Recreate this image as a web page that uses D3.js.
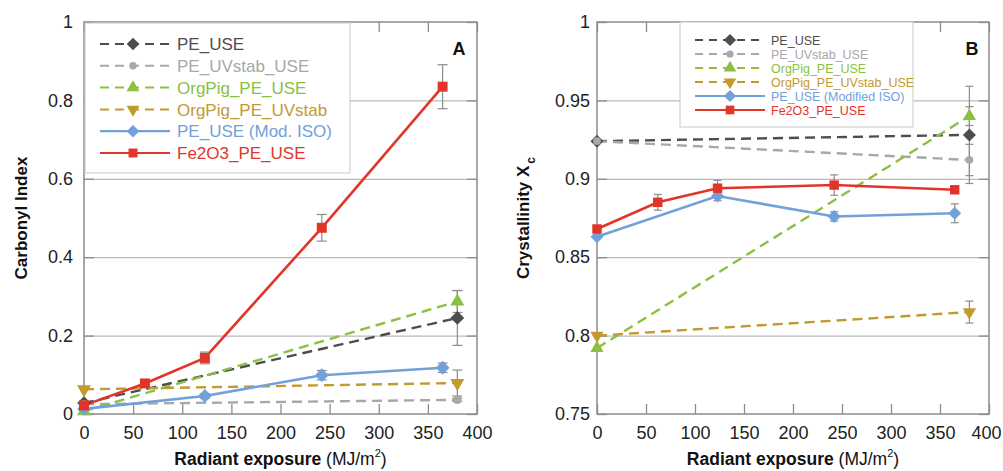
<!DOCTYPE html>
<html>
<head>
<meta charset="utf-8">
<script src="https://cdn.jsdelivr.net/npm/d3@7"></script>
<style>
  body { margin: 0; background: #fff; }
  svg { display: block; font-family: "Liberation Sans", Arial, sans-serif; }
</style>
</head>
<body>
<svg id="chart" width="1003" height="471"></svg>
<script>
// x axis (radiant exposure, MJ/m2)
const xTicks = [0, 50, 100, 150, 200, 250, 300, 350, 400];
const xTickLabels = ['0', '50', '100', '150', '200', '250', '300', '350', '400'];
const xEnds = [0, 380];
const xFe = [0, 62, 123, 242, 365];
const xIso = [0, 123, 242, 365];

// panel A - carbonyl index
const ciTicks = [0, 0.2, 0.4, 0.6, 0.8, 1];
const ciTickLabels = ['0', '0.2', '0.4', '0.6', '0.8', '1'];
const ciPE = [0.028, 0.245];
const ciPEErr = [0, 0.07];
const ciUVstab = [0.025, 0.036];
const ciUVstabErr = [0, 0.004];
const ciOrgPig = [0.007, 0.287];
const ciOrgPigErr = [0, 0.028];
const ciOrgPigUV = [0.063, 0.079];
const ciOrgPigUVErr = [0, 0.033];
const ciIso = [0.013, 0.046, 0.099, 0.118];
const ciIsoErr = [0, 0.006, 0.012, 0.012];
const ciFe = [0.022, 0.078, 0.143, 0.475, 0.835];
const ciFeErr = [0.005, 0, 0.015, 0.034, 0.056];

// panel B - crystallinity
const xcTicks = [0.75, 0.8, 0.85, 0.9, 0.95, 1];
const xcTickLabels = ['0.75', '0.8', '0.85', '0.9', '0.95', '1'];
const xcPE = [0.924, 0.928];
const xcPEErr = [0, 0.031];
const xcUVstab = [0.924, 0.912];
const xcUVstabErr = [0, 0.01];
const xcOrgPig = [0.792, 0.940];
const xcOrgPigErr = [0, 0.006];
const xcOrgPigUV = [0.800, 0.815];
const xcOrgPigUVErr = [0, 0.007];
const xcIso = [0.863, 0.889, 0.876, 0.878];
const xcIsoErr = [0, 0.003, 0.003, 0.006];
const xcFe = [0.868, 0.885, 0.894, 0.896, 0.893];
const xcFeErr = [0, 0.005, 0.005, 0.0065, 0];

const namesA = ['PE_USE', 'PE_UVstab_USE', 'OrgPig_PE_USE', 'OrgPig_PE_UVstab', 'PE_USE (Mod. ISO)', 'Fe2O3_PE_USE'];
const namesB = ['PE_USE', 'PE_UVstab_USE', 'OrgPig_PE_USE', 'OrgPig_PE_UVstab_USE', 'PE_USE (Modified ISO)', 'Fe2O3_PE_USE'];

const styles = [
  { color: '#4d4d4d', dash: true, shape: 'diamond' },
  { color: '#a8a8a8', dash: true, shape: 'circle' },
  { color: '#8cc043', dash: true, shape: 'up' },
  { color: '#c39a2f', dash: true, shape: 'down' },
  { color: '#72a1d9', dash: false, shape: 'diamond' },
  { color: '#e2352a', dash: false, shape: 'square' }
];

const svg = d3.select('#chart');

function symbolPath(shape, size) {
  if (shape === 'diamond' || shape === 'square') return d3.symbol().type(d3.symbolSquare).size(size)();
  if (shape === 'circle') return d3.symbol().type(d3.symbolCircle).size(size * 0.55)();
  return d3.symbol().type(d3.symbolTriangle).size(size * 0.9)();
}

function placeMarker(g, shape, size, color, cx, cy) {
  let rot = 0;
  if (shape === 'diamond') rot = 45;
  if (shape === 'down') rot = 180;
  g.append('path')
    .attr('d', symbolPath(shape, size))
    .attr('fill', color)
    .attr('transform', `translate(${cx},${cy}) rotate(${rot})`);
}

function drawPanel(p) {
  const x = d3.scaleLinear().domain([0, 400]).range([p.left, p.right]);
  const y = d3.scaleLinear().domain([p.yTicks[0], p.yTicks[p.yTicks.length - 1]]).range([p.bottom, p.top]);
  const w = p.right - p.left;
  const h = p.bottom - p.top;
  const g = svg.append('g');

  // horizontal grid
  g.append('g')
    .attr('transform', `translate(${p.left},0)`)
    .call(d3.axisLeft(y).tickValues(p.yTicks.slice(1, -1)).tickSize(-w).tickFormat(''))
    .call(s => s.select('.domain').remove())
    .selectAll('line').attr('stroke', '#a9a9a9').attr('stroke-width', 1);

  const styleAxis = s => {
    s.select('.domain').remove();
    s.selectAll('line').attr('stroke', '#8c8c8c').attr('stroke-width', 1.3);
    s.selectAll('text').attr('fill', '#222').attr('font-size', 18)
      .attr('font-family', '"Liberation Sans", Arial, sans-serif');
  };

  const bottomAxis = g.append('g').attr('transform', `translate(0,${p.bottom})`)
    .call(d3.axisBottom(x).tickValues(xTicks).tickFormat((d, i) => xTickLabels[i]).tickSize(-10).tickPadding(12))
    .call(styleAxis);
  if (p.lastTickEnd) {
    // keep the last label inside the page
    bottomAxis.selectAll('.tick:last-of-type text').attr('text-anchor', 'end').attr('x', p.lastTickEnd);
  }
  g.append('g').attr('transform', `translate(0,${p.top})`)
    .call(d3.axisTop(x).tickValues(xTicks).tickFormat('').tickSize(-10))
    .call(styleAxis);
  g.append('g').attr('transform', `translate(${p.left},0)`)
    .call(d3.axisLeft(y).tickValues(p.yTicks).tickFormat((d, i) => p.yTickLabels[i]).tickSize(-10).tickPadding(p.yPad))
    .call(styleAxis);
  g.append('g').attr('transform', `translate(${p.right},0)`)
    .call(d3.axisRight(y).tickValues(p.yTicks).tickFormat('').tickSize(-10))
    .call(styleAxis);

  g.append('rect')
    .attr('x', p.left).attr('y', p.top).attr('width', w).attr('height', h)
    .attr('fill', 'none').attr('stroke', '#8c8c8c').attr('stroke-width', 1.5);

  // legend (drawn before the data so the lines sit on top)
  const lg = g.append('g');
  lg.append('rect')
    .attr('x', p.legend.x).attr('y', p.legend.y)
    .attr('width', p.legend.w).attr('height', p.legend.h)
    .attr('fill', '#fff').attr('stroke', '#c8c8c8').attr('stroke-width', 1);
  p.series.forEach((s, i) => {
    const ly = p.legend.first + i * p.legend.step;
    lg.append('line')
      .attr('x1', p.legend.lx1).attr('x2', p.legend.lx2).attr('y1', ly).attr('y2', ly)
      .attr('stroke', s.color).attr('stroke-width', s.dash ? 2 : 2.2)
      .attr('stroke-dasharray', s.dash ? p.legend.dash : null);
    placeMarker(lg, s.shape, p.legend.msize, s.color, p.legend.mx, ly);
    lg.append('text')
      .attr('x', p.legend.tx).attr('y', ly).attr('dy', '0.36em')
      .attr('font-size', p.legend.font).attr('fill', s.color)
      .text(s.name);
  });

  const line = d3.line().x(d => x(d[0])).y(d => y(d[1]));

  p.series.forEach(s => {
    const pts = s.x.map((v, i) => [v, s.y[i]]);
    g.append('path')
      .attr('d', line(pts))
      .attr('fill', 'none')
      .attr('stroke', s.color)
      .attr('stroke-width', s.dash ? 2.4 : 2.6)
      .attr('stroke-dasharray', s.dash ? p.dash : null);
  });

  p.series.forEach(s => {
    s.x.forEach((v, i) => {
      const e = s.err[i];
      if (!e) return;
      const cx = x(v);
      g.append('line')
        .attr('x1', cx).attr('x2', cx).attr('y1', y(s.y[i] - e)).attr('y2', y(s.y[i] + e))
        .attr('stroke', '#8c8c8c').attr('stroke-width', 1.2);
      [s.y[i] - e, s.y[i] + e].forEach(yy => {
        g.append('line')
          .attr('x1', cx - p.cap).attr('x2', cx + p.cap).attr('y1', y(yy)).attr('y2', y(yy))
          .attr('stroke', '#8c8c8c').attr('stroke-width', 1.2);
      });
    });
  });

  p.series.forEach(s => {
    s.x.forEach((v, i) => placeMarker(g, s.shape, s.shape === 'square' ? p.msize * 1.05 : p.msize, s.color, x(v), y(s.y[i])));
  });

  g.append('text')
    .attr('x', p.tagX).attr('y', 55)
    .attr('text-anchor', 'middle')
    .attr('font-weight', 'bold').attr('font-size', 18).attr('fill', '#111')
    .text(p.tag);

  // x label
  const xl = g.append('text')
    .attr('x', (p.left + p.right) / 2).attr('y', 465)
    .attr('text-anchor', 'middle')
    .attr('font-size', 17.5).attr('fill', '#111');
  xl.append('tspan').attr('font-weight', 'bold').text('Radiant exposure ');
  xl.append('tspan').text('(MJ/m');
  xl.append('tspan').attr('font-size', 11).attr('dy', -8).text('2');
  xl.append('tspan').attr('dy', 8).text(')');

  // y label
  const yl = g.append('text')
    .attr('transform', `translate(${p.yLabelX},${(p.top + p.bottom) / 2}) rotate(-90)`)
    .attr('text-anchor', 'middle')
    .attr('font-size', 17).attr('font-weight', 'bold').attr('fill', '#111');
  yl.append('tspan').text(p.yLabel);
  if (p.yLabelSub) {
    yl.append('tspan').attr('font-size', 12).attr('dx', 2).attr('dy', 6).text(p.yLabelSub);
  }
}

function buildSeries(names, xs, ys, errs) {
  return names.map((n, i) => Object.assign({ name: n, x: xs[i], y: ys[i], err: errs[i] }, styles[i]));
}

drawPanel({
  left: 84, right: 477, top: 22, bottom: 414,
  yTicks: ciTicks, yTickLabels: ciTickLabels, yPad: 11,
  yLabel: 'Carbonyl Index', yLabelX: 27,
  tag: 'A', tagX: 459,
  dash: '10,6', cap: 5, msize: 95,
  legend: { x: 85, y: 23, w: 265, h: 150, first: 44, step: 21.8, lx1: 100, lx2: 170, mx: 133, tx: 177, font: 17, msize: 80, dash: '9,6' },
  series: buildSeries(namesA,
    [xEnds, xEnds, xEnds, xEnds, xIso, xFe],
    [ciPE, ciUVstab, ciOrgPig, ciOrgPigUV, ciIso, ciFe],
    [ciPEErr, ciUVstabErr, ciOrgPigErr, ciOrgPigUVErr, ciIsoErr, ciFeErr])
});

drawPanel({
  left: 597, right: 989, top: 22, bottom: 414,
  yTicks: xcTicks, yTickLabels: xcTickLabels, yPad: 7,
  yLabel: 'Crystallinity X', yLabelSub: 'c', yLabelX: 529,
  tag: 'B', tagX: 972,
  dash: '10,6', cap: 4, msize: 85,
  lastTickEnd: 12,
  legend: { x: 680, y: 22, w: 233, h: 105, first: 40, step: 14, lx1: 695, lx2: 765, mx: 730, tx: 771, font: 12.5, msize: 75, dash: '8,6' },
  series: buildSeries(namesB,
    [xEnds, xEnds, xEnds, xEnds, xIso, xFe],
    [xcPE, xcUVstab, xcOrgPig, xcOrgPigUV, xcIso, xcFe],
    [xcPEErr, xcUVstabErr, xcOrgPigErr, xcOrgPigUVErr, xcIsoErr, xcFeErr])
});
</script>
</body>
</html>
